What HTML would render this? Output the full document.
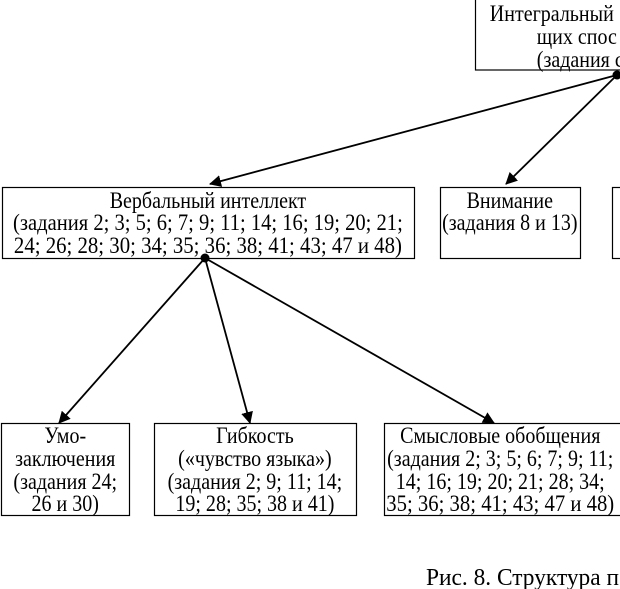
<!DOCTYPE html>
<html><head><meta charset="utf-8"><style>
html,body{margin:0;padding:0;background:#fff;}
svg{display:block;font-family:"Liberation Serif",serif;font-size:23px;}
</style></head><body>
<svg width="620" height="589" viewBox="0 0 620 589" xmlns="http://www.w3.org/2000/svg">
<defs><marker id="a" markerWidth="12" markerHeight="12" refX="11" refY="6" orient="auto" markerUnits="userSpaceOnUse"><path d="M0,0 L12,6 L0,12 z" fill="#000"/></marker></defs>
<g fill="none" stroke="#000" stroke-width="1.2">
<rect x="475.5" y="-2" width="160" height="72"/>
<rect x="2.5" y="187.5" width="412" height="71"/>
<rect x="440.5" y="187.5" width="140" height="71"/>
<rect x="612.5" y="187.5" width="20" height="71"/>
<rect x="1.5" y="423.5" width="128" height="92"/>
<rect x="154.5" y="423.5" width="202" height="92"/>
<rect x="384.5" y="423.5" width="240" height="92"/>
</g>
<g stroke="#000" stroke-width="1.8" marker-end="url(#a)">
<line x1="617" y1="75" x2="210" y2="184"/>
<line x1="617" y1="75" x2="506" y2="184"/>
<line x1="205" y1="258" x2="59" y2="423"/>
<line x1="205" y1="258" x2="250" y2="423"/>
<line x1="205" y1="258" x2="494" y2="423"/>
</g>
<circle cx="617" cy="75" r="4.5"/><circle cx="205" cy="258" r="4.5"/>
<g fill="#000" transform="scale(0.87,1)">
<text x="563" y="21">Интегральный</text>
<text x="617" y="44">щих спос</text>
<text x="617" y="67">(задания с</text>
<g text-anchor="middle">
<text x="239" y="208">Вербальный интеллект</text>
<text x="239" y="230" textLength="448" lengthAdjust="spacingAndGlyphs">(задания 2; 3; 5; 6; 7; 9; 11; 14; 16; 19; 20; 21;</text>
<text x="239" y="253" textLength="446" lengthAdjust="spacingAndGlyphs">24; 26; 28; 30; 34; 35; 36; 38; 41; 43; 47 и 48)</text>
<text x="586" y="208">Внимание</text>
<text x="586" y="230">(задания 8 и 13)</text>
<text x="75" y="443">Умо-</text>
<text x="75" y="466">заключения</text>
<text x="75" y="489">(задания 24;</text>
<text x="75" y="511">26 и 30)</text>
<text x="293" y="443">Гибкость</text>
<text x="293" y="466">(«чувство языка»)</text>
<text x="293" y="489">(задания 2; 9; 11; 14;</text>
<text x="293" y="511">19; 28; 35; 38 и 41)</text>
<text x="575" y="443">Смысловые обобщения</text>
<text x="575" y="466" textLength="260" lengthAdjust="spacingAndGlyphs">(задания 2; 3; 5; 6; 7; 9; 11;</text>
<text x="575" y="489">14; 16; 19; 20; 21; 28; 34;</text>
<text x="575" y="511" textLength="262" lengthAdjust="spacingAndGlyphs">35; 36; 38; 41; 43; 47 и 48)</text>
</g>
</g>
<text x="426" y="585" fill="#000" font-size="24" textLength="193" lengthAdjust="spacingAndGlyphs">Рис. 8. Структура п</text>
</svg>
</body></html>
